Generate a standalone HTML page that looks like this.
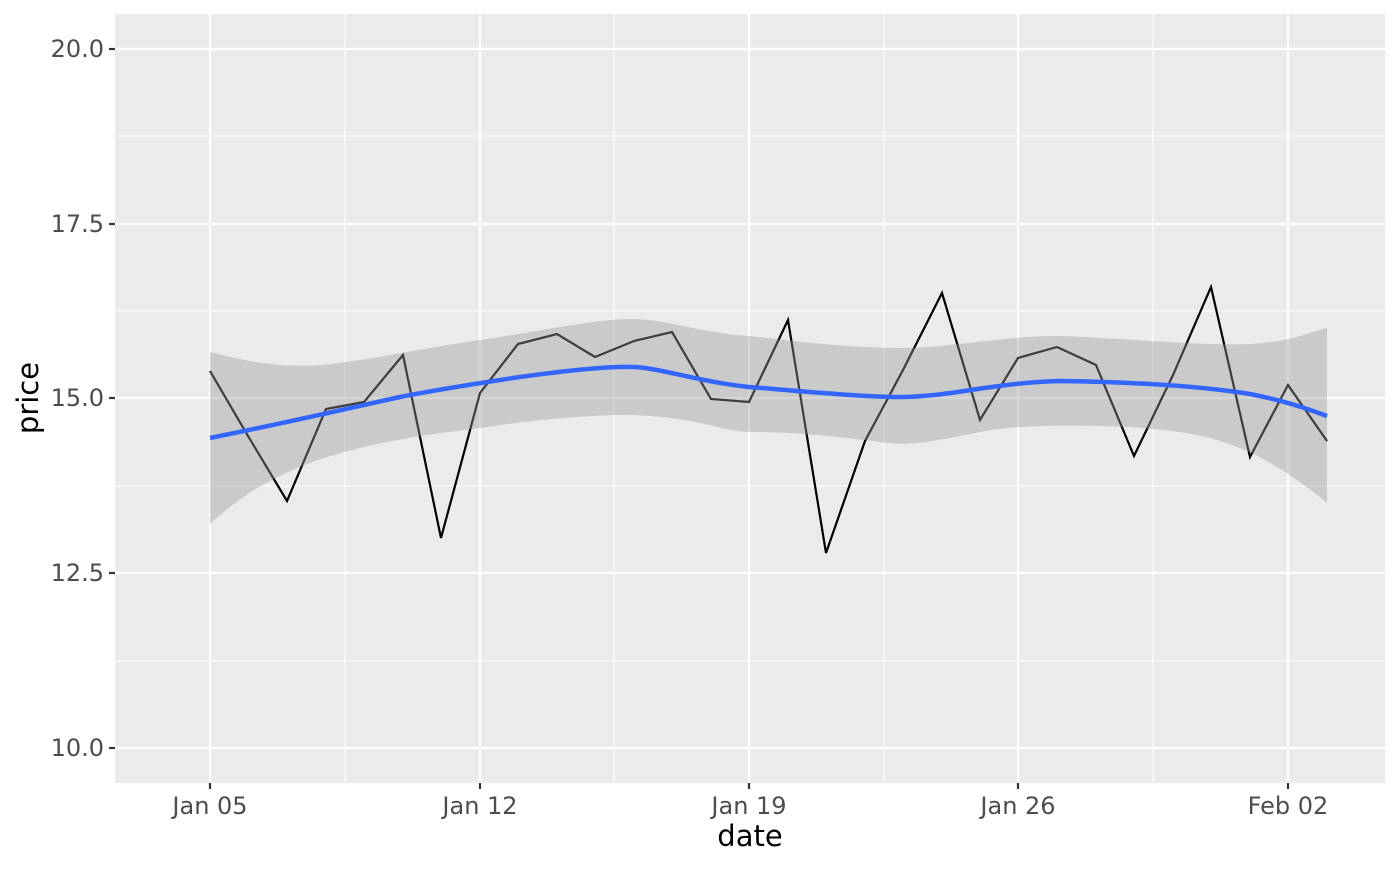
<!DOCTYPE html>
<html><head><style>body{margin:0;background:#fff}</style></head><body>
<svg width="1400" height="866" xmlns="http://www.w3.org/2000/svg" font-family="DejaVu Sans, sans-serif">
<rect x="115" y="14" width="1270" height="769" fill="#ebebeb"/>
<g stroke="#fff" stroke-width="1.1">
<line x1="115" x2="1385" y1="136" y2="136"/><line x1="115" x2="1385" y1="311" y2="311"/><line x1="115" x2="1385" y1="486" y2="486"/><line x1="115" x2="1385" y1="661" y2="661"/>
<line y1="14" y2="783" x1="345" x2="345"/><line y1="14" y2="783" x1="614" x2="614"/><line y1="14" y2="783" x1="884" x2="884"/><line y1="14" y2="783" x1="1153" x2="1153"/>
</g>
<g stroke="#fff" stroke-width="2.2">
<line x1="115" x2="1385" y1="49" y2="49"/><line x1="115" x2="1385" y1="224" y2="224"/><line x1="115" x2="1385" y1="398" y2="398"/><line x1="115" x2="1385" y1="573" y2="573"/><line x1="115" x2="1385" y1="748" y2="748"/>
<line y1="14" y2="783" x1="210" x2="210"/><line y1="14" y2="783" x1="480" x2="480"/><line y1="14" y2="783" x1="749" x2="749"/><line y1="14" y2="783" x1="1018" x2="1018"/><line y1="14" y2="783" x1="1288" x2="1288"/>
</g>
<polyline fill="none" stroke="#000" stroke-width="2.2" points="210,371 248,436 287,501 326,409 364,402 403,355 441,538 480,393 518,344 557,334 595,357 634,341 672,332 711,399 749,402 788,320 826,553 865,441 903,370 942,293 980,420 1018,358 1057,347 1096,365 1134,456 1173,375 1211,287 1250,457 1288,385 1327,441"/>
<path fill="#999" fill-opacity="0.4" d="M210,352 C250,362 280,368 320,365 C360,362 400,352 480,340 C530,333 600,318 634,319 C670,320 700,333 749,336 C790,340 830,347 900,348 C950,348 1000,336 1060,336 C1120,338 1200,346 1250,344 C1290,342 1310,332 1327,328 L1327,503 C1300,480 1270,462 1250,452 C1220,440 1200,432 1130,427 C1080,425 1020,424 980,432 C940,440 910,447 880,442 C840,437 800,432 749,432 C720,431 700,418 634,415 C600,414 530,420 480,428 C440,433 400,438 360,448 C320,458 300,466 280,476 C250,490 230,506 210,524 Z"/>
<path fill="none" stroke="#3366ff" stroke-width="4.5" d="M210,438 C280,424 350,408 400,397 C440,389 480,383 520,377 C570,370 610,366 634,367 C660,368 700,382 749,387 C800,391 860,397 900,397 C950,397 990,383 1060,381 C1130,382 1200,386 1250,394 C1290,402 1310,410 1327,416"/>
<g stroke="#333" stroke-width="2.2">
<line x1="109" x2="115" y1="49" y2="49"/><line x1="109" x2="115" y1="224" y2="224"/><line x1="109" x2="115" y1="398" y2="398"/><line x1="109" x2="115" y1="573" y2="573"/><line x1="109" x2="115" y1="748" y2="748"/>
<line y1="783" y2="789" x1="210" x2="210"/><line y1="783" y2="789" x1="480" x2="480"/><line y1="783" y2="789" x1="749" x2="749"/><line y1="783" y2="789" x1="1018" x2="1018"/><line y1="783" y2="789" x1="1288" x2="1288"/>
</g>
<g fill="#4d4d4d" font-size="24" text-anchor="end">
<text x="104" y="57">20.0</text><text x="104" y="232">17.5</text><text x="104" y="406">15.0</text><text x="104" y="581">12.5</text><text x="104" y="756">10.0</text>
</g>
<g fill="#4d4d4d" font-size="24" text-anchor="middle">
<text x="210" y="814">Jan 05</text><text x="480" y="814">Jan 12</text><text x="749" y="814">Jan 19</text><text x="1018" y="814">Jan 26</text><text x="1288" y="814">Feb 02</text>
</g>
<text x="750" y="846" font-size="29" text-anchor="middle" fill="#000">date</text>
<text transform="translate(38,398) rotate(-90)" font-size="29" text-anchor="middle" fill="#000">price</text>
</svg>
</body></html>
